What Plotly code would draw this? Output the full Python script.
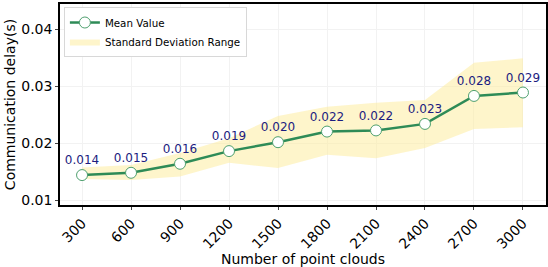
import plotly.graph_objects as go

point_clouds = [300, 600, 900, 1200, 1500, 1800, 2100, 2400, 2700, 3000]
mean_values = [0.01444, 0.01484, 0.01642, 0.01864, 0.0202, 0.02206, 0.02226, 0.0234, 0.0283, 0.0289]
std_upper = [0.01577, 0.0162, 0.0183, 0.0209, 0.0248, 0.0264, 0.0271, 0.0276, 0.0341, 0.0349]
std_lower = [0.01374, 0.0136, 0.0142, 0.0166, 0.01566, 0.0180, 0.0174, 0.0192, 0.0225, 0.0228]
labels = ["0.014", "0.015", "0.016", "0.019", "0.020", "0.022", "0.022", "0.023", "0.028", "0.029"]
y_ticks = [0.01, 0.02, 0.03, 0.04]

FONT = "DejaVu Sans"
GREEN = "#2e8b57"
BAND = "rgba(253,236,160,0.55)"

fig = go.Figure()
fig.add_trace(go.Scatter(
    x=point_clouds, y=std_lower, mode="lines", line=dict(width=0),
    showlegend=False, hoverinfo="skip"))
fig.add_trace(go.Scatter(
    x=point_clouds, y=std_upper, mode="lines", line=dict(width=0),
    fill="tonexty", fillcolor=BAND, name="Standard Deviation Range"))
fig.add_trace(go.Scatter(
    x=point_clouds, y=mean_values, mode="lines+markers+text",
    name="Mean Value", text=labels, textposition="top center",
    textfont=dict(family=FONT, size=12, color="#1c1c80"),
    cliponaxis=False,
    line=dict(color=GREEN, width=2.5),
    marker=dict(size=11, color="white", line=dict(color="#4fa06f", width=1))))

fig.update_layout(
    width=548, height=267,
    margin=dict(l=60, r=2, t=4, b=62),
    paper_bgcolor="white", plot_bgcolor="white",
    font=dict(family=FONT, size=13, color="black"),
    legend=dict(
        x=0.008, y=0.985, xanchor="left", yanchor="top",
        bgcolor="white", bordercolor="#d8d8d8", borderwidth=1,
        font=dict(family=FONT, size=10.3), traceorder="reversed",
        tracegroupgap=0, itemwidth=30),
    xaxis=dict(
        range=[165, 3141], tickmode="array", tickvals=point_clouds,
        ticktext=[str(v) for v in point_clouds], tickangle=-45,
        tickfont=dict(size=14), showgrid=True, gridcolor="#f2f2f2",
        showline=True, linecolor="black", linewidth=1.5, mirror=True,
        ticks="outside", ticklen=3, zeroline=False, automargin=False,
        title=dict(text="Number of point clouds", font=dict(size=14), standoff=2)),
    yaxis=dict(
        range=[0.0092, 0.0444], tickmode="array", tickvals=y_ticks,
        ticktext=["0.01", "0.02", "0.03", "0.04"],
        tickfont=dict(size=14), showgrid=True, gridcolor="#f2f2f2",
        showline=True, linecolor="black", linewidth=1.5, mirror=True,
        ticks="outside", ticklen=3, zeroline=False, automargin=False,
        title=dict(text="Communication delay(s)", font=dict(size=14), standoff=2)),
)

fig.write_html(
    "out.html",
    config={"displayModeBar": False},
    post_script="document.body.style.margin='0';document.body.style.padding='0';",
)
